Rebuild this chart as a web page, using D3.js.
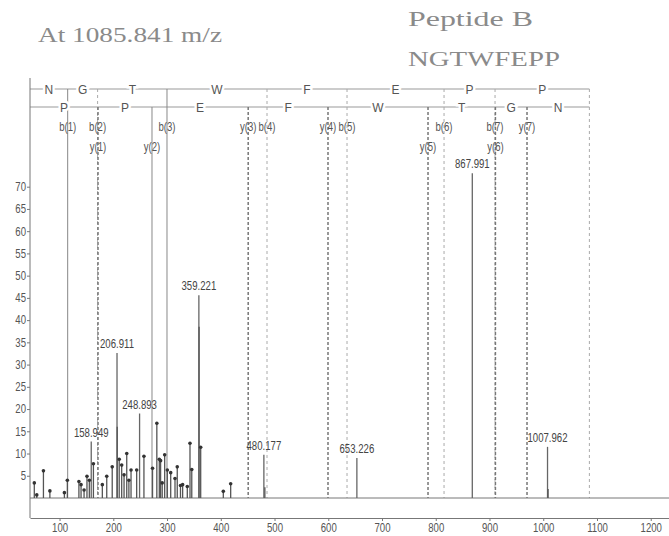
<!DOCTYPE html>
<html>
<head>
<meta charset="utf-8">
<script src="https://cdn.jsdelivr.net/npm/d3@7"></script>
<style>
  body { margin: 0; background: #fff; }
  svg text { font-family: "Liberation Sans", Arial, sans-serif; }
</style>
</head>
<body>
<script>
var w = 669;
var h = 536;

// peaks (m/z, relative intensity)
var peakMz  = [53, 57.6, 70, 82, 109, 114.5, 136, 140, 145.6, 151, 155.4, 158.949, 163,
               179.6, 187.8, 198, 206.911, 207.3, 211, 215.6, 220, 225, 229, 233, 243.5,
               248.893, 257, 273, 281, 285.6, 288, 291, 295.6, 300.5, 306.8, 314.8, 319,
               325, 329, 337.7, 342.7, 346, 359.221, 359.6, 362.6, 404.7, 418.4,
               480.177, 482, 653.226, 867.991, 1007.962, 1009];
var peakInt = [3.4, 0.7, 6.1, 1.6, 1.2, 4.0, 3.7, 3.0, 1.8, 4.9, 4.0, 12.7, 7.7,
               3.0, 4.9, 7.0, 32.6, 16.0, 8.7, 7.4, 5.2, 10, 4, 6.3, 6.3,
               19, 9.4, 6.7, 16.8, 8.7, 8.4, 3.4, 9.7, 6.3, 5.7, 4.4, 7.0,
               2.8, 3.0, 2.6, 12.3, 6.4, 45.6, 38.5, 11.4, 1.5, 3.2,
               9.7, 2.4, 9.0, 73, 11.5, 2.0];
var labeledMz = [158.949, 206.911, 248.893, 359.221, 480.177, 653.226, 867.991, 1007.962];

// fragment ions
var sequence = ["N", "G", "T", "W", "F", "E", "P", "P"];
var precursorMz = 1085.841;
var bIonMz  = [115.1, 170.8, 299.9, 486.0, 634.9, 815.4, 910.3];
var bIonHit = [true, false, true, false, false, false, false];
var yIonMz  = [171.5, 272.0, 451.0, 599.5, 785.6, 911.0, 969.8];
var yIonHit = [false, true, false, false, false, false, false];

var xTicks = d3.range(100, 1300, 100);
var yTicks = d3.range(5, 75, 5);

var narrow = 0.8;

var x = d3.scaleLinear().domain([45, 1234]).range([30, 669]);
var y = d3.scaleLinear().domain([0, 70]).range([498, 186.7]);

var svg = d3.select("body").append("svg")
  .attr("width", w)
  .attr("height", h);

// titles
svg.append("text").text("At 1085.841 m/z")
  .attr("x", 38).attr("y", 42)
  .attr("textLength", 184).attr("lengthAdjust", "spacingAndGlyphs")
  .style("font-family", "'Liberation Serif', 'DejaVu Serif', serif")
  .style("font-size", "21px").attr("fill", "#8a8a8a");
svg.append("text").text("Peptide B")
  .attr("x", 408).attr("y", 26)
  .attr("textLength", 125).attr("lengthAdjust", "spacingAndGlyphs")
  .style("font-family", "'Liberation Serif', 'DejaVu Serif', serif")
  .style("font-size", "20px").attr("fill", "#8a8a8a");
svg.append("text").text("NGTWFEPP")
  .attr("x", 408).attr("y", 66)
  .attr("textLength", 152).attr("lengthAdjust", "spacingAndGlyphs")
  .style("font-family", "'Liberation Serif', 'DejaVu Serif', serif")
  .style("font-size", "20px").attr("fill", "#8a8a8a");

var rowB = 89, rowY = 107;

// ion sequence lines
svg.append("line").attr("x1", x(45)).attr("x2", x(precursorMz))
  .attr("y1", rowB).attr("y2", rowB).attr("stroke", "#999");
svg.append("line").attr("x1", x(45)).attr("x2", x(precursorMz))
  .attr("y1", rowY).attr("y2", rowY).attr("stroke", "#999");

// ion vertical lines
var ions = [];
bIonMz.forEach(function(m, i) {
  ions.push({mz: m, name: "b(" + (i + 1) + ")", type: "b", hit: bIonHit[i]});
});
yIonMz.forEach(function(m, i) {
  ions.push({mz: m, name: "y(" + (i + 1) + ")", type: "y", hit: yIonHit[i]});
});

svg.append("line")
  .attr("x1", x(precursorMz)).attr("x2", x(precursorMz))
  .attr("y1", rowB).attr("y2", y(0))
  .attr("stroke", "#aaa").attr("stroke-dasharray", "3,3");

svg.selectAll(".ion")
  .data(ions)
  .enter()
  .append("line")
  .attr("class", "ion")
  .attr("x1", function(d) { return x(d.mz); })
  .attr("x2", function(d) { return x(d.mz); })
  .attr("y1", function(d) { return d.type == "b" ? rowB : rowY; })
  .attr("y2", y(0))
  .attr("stroke", function(d) {
    if (d.hit) return "#888";
    return d.type == "b" ? "#aaa" : "#777";
  })
  .attr("stroke-width", function(d) { return (!d.hit && d.type == "y") ? 1.5 : 1; })
  .attr("stroke-dasharray", function(d) {
    if (d.hit) return null;
    return d.type == "b" ? "3,3" : "3,2";
  });

// ion labels: b ions on first row, y ions drop to second row if they collide
var placed = [];
ions.forEach(function(d) {
  var px = x(d.mz);
  var row = 0;
  placed.forEach(function(p) {
    if (p.row == 0 && Math.abs(p.px - px) < 18) row = 1;
  });
  d.row = row;
  d.px = px;
  placed.push(d);
});

svg.selectAll(".ionlabel")
  .data(ions)
  .enter()
  .append("text")
  .attr("class", "ionlabel")
  .text(function(d) { return d.name; })
  .attr("transform", function(d) {
    return "translate(" + d.px + "," + (d.row == 0 ? 131 : 151) + ") scale(" + narrow + ",1)";
  })
  .attr("text-anchor", "middle")
  .style("font-size", "12px")
  .attr("fill", "#555");

// residue letters between ion positions
var bBounds = [45].concat(bIonMz, [precursorMz]);
var yBounds = [45].concat(yIonMz, [precursorMz]);
var revSeq = sequence.slice().reverse();

function letters(seq, bounds, rowY0) {
  svg.append("g").selectAll("text")
    .data(seq)
    .enter()
    .append("text")
    .text(function(d) { return d; })
    .attr("x", function(d, i) { return x((bounds[i] + bounds[i + 1]) / 2); })
    .attr("y", rowY0 + 4.5)
    .attr("text-anchor", "middle")
    .style("font-size", "12px")
    .attr("fill", "#555")
    .attr("stroke", "#fff").attr("stroke-width", 5)
    .attr("paint-order", "stroke");
}
letters(sequence, bBounds, rowB);
letters(revSeq, yBounds, rowY);

// baseline
svg.append("line").attr("x1", 30).attr("x2", 669)
  .attr("y1", y(0)).attr("y2", y(0)).attr("stroke", "#777");

// peaks
var peaks = peakMz.map(function(m, i) {
  var lab = labeledMz.indexOf(m) >= 0;
  var nearLab = labeledMz.some(function(l) { return Math.abs(l - m) < 2; });
  return {mz: m, v: peakInt[i], label: lab, dot: !nearLab};
});

svg.selectAll(".peak")
  .data(peaks)
  .enter()
  .append("line")
  .attr("class", "peak")
  .attr("x1", function(d) { return x(d.mz); })
  .attr("x2", function(d) { return x(d.mz); })
  .attr("y1", y(0))
  .attr("y2", function(d) { return y(d.v); })
  .attr("stroke", function(d) { return d.label ? "#666" : "#555"; })
  .attr("stroke-width", 1.3);

svg.selectAll(".dot")
  .data(peaks.filter(function(d) { return d.dot; }))
  .enter()
  .append("circle")
  .attr("class", "dot")
  .attr("cx", function(d) { return x(d.mz); })
  .attr("cy", function(d) { return y(d.v); })
  .attr("r", 1.8)
  .attr("fill", "#333");

svg.selectAll(".plabel")
  .data(peaks.filter(function(d) { return d.label; }))
  .enter()
  .append("text")
  .attr("class", "plabel")
  .text(function(d) { return d3.format(".3f")(d.mz); })
  .attr("transform", function(d) {
    return "translate(" + x(d.mz) + "," + (y(d.v) - 5) + ") scale(" + narrow + ",1)";
  })
  .attr("text-anchor", "middle")
  .style("font-size", "12px")
  .attr("fill", "#444");

// axes
svg.append("line").attr("x1", 30).attr("x2", 30)
  .attr("y1", 78).attr("y2", 518).attr("stroke", "#777");

var yAxis = svg.append("g")
  .attr("transform", "translate(30,0)")
  .call(d3.axisLeft(y).tickValues(yTicks).tickSize(3).tickSizeOuter(0));
yAxis.select(".domain").remove();

var xAxis = svg.append("g")
  .attr("transform", "translate(0,518)")
  .call(d3.axisBottom(x).tickValues(xTicks).tickFormat(d3.format("d"))
    .tickSize(3).tickSizeOuter(0));

svg.selectAll(".tick line").attr("stroke", "#777");
xAxis.select(".domain").attr("stroke", "#777");
svg.selectAll(".tick text")
  .style("font-family", "'Liberation Sans', Arial, sans-serif")
  .style("font-size", "12px")
  .attr("fill", "#555");
xAxis.selectAll(".tick text")
  .attr("y", 5)
  .attr("transform", "scale(" + narrow + ",1)");
yAxis.selectAll(".tick text")
  .attr("x", -5)
  .attr("transform", "scale(" + narrow + ",1)");
</script>
</body>
</html>
